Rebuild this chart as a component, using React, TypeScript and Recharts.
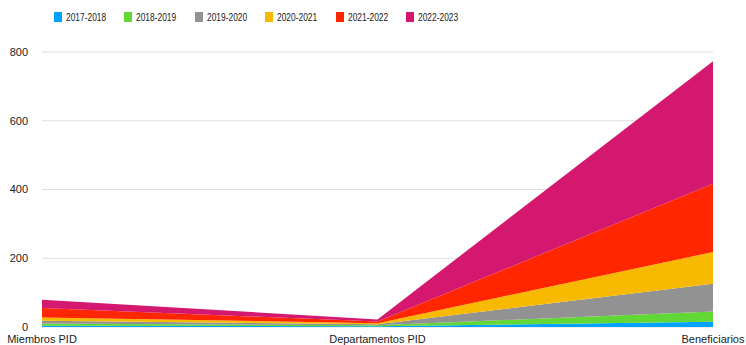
import React from "react";
import { AreaChart, Area, XAxis, YAxis, CartesianGrid, Legend } from "recharts";

const categories = ["Miembros PID", "Departamentos PID", "Beneficiarios"];
const years = ["2017-2018", "2018-2019", "2019-2020", "2020-2021", "2021-2022", "2022-2023"];

const s2017 = [4, 2, 15];
const s2018 = [6, 3, 30];
const s2019 = [8, 3, 81];
const s2020 = [10, 3, 92];
const s2021 = [27, 5, 199];
const s2022 = [24, 6, 356];

const yTicks = [0, 200, 400, 600, 800];

const COLORS = ["#00A2FF", "#61D836", "#929292", "#F8BA00", "#FF2600", "#D5186F"];

const series = [s2017, s2018, s2019, s2020, s2021, s2022];

const chartData = categories.map((name, i) => {
  const row: Record<string, string | number> = { name };
  years.forEach((y, k) => {
    row[y] = series[k][i];
  });
  return row;
});

const LegendContent = () => (
  <div style={{ height: 42, position: "relative" }}>
    {years.map((y, i) => (
      <div
        key={y}
        style={{
          position: "absolute",
          left: 54 + i * 70.4,
          top: 1,
          display: "flex",
          alignItems: "center",
        }}
      >
        <span style={{ width: 8, height: 10, background: COLORS[i], display: "inline-block" }} />
        <span
          style={{
            marginLeft: 4,
            fontSize: 10.5,
            fontFamily: "'Liberation Sans', Arial, sans-serif",
            color: "#222",
            display: "inline-block",
            transform: "scaleX(0.8)",
            transformOrigin: "left center",
          }}
        >
          {y}
        </span>
      </div>
    ))}
  </div>
);

export default function App() {
  return (
    <div style={{ position: "absolute", left: 0, top: 0, background: "#fff" }}>
      <AreaChart
        width={746}
        height={345}
        data={chartData}
        margin={{ top: 10, right: 33, left: 0, bottom: 0 }}
        style={{ fontFamily: "'Liberation Sans', Arial, sans-serif" }}
      >
        <CartesianGrid stroke="#dedede" vertical={false} />
        <Legend
          verticalAlign="top"
          align="left"
          height={42}
          content={<LegendContent />}
          wrapperStyle={{ left: 0, top: 10, width: 746 }}
        />
        <XAxis
          dataKey="name"
          axisLine={false}
          tickLine={false}
          interval={0}
          height={18}
          tick={{ fontSize: 11, fill: "#222" }}
        />
        <YAxis
          domain={[0, 800]}
          ticks={yTicks}
          axisLine={false}
          tickLine={false}
          width={42}
          tickMargin={8}
          tick={{ fontSize: 11, fill: "#222" }}
        />
        {years.map((y, i) => (
          <Area
            key={y}
            type="linear"
            dataKey={y}
            stackId="1"
            stroke="none"
            fill={COLORS[i]}
            fillOpacity={1}
            isAnimationActive={false}
          />
        ))}
      </AreaChart>
    </div>
  );
}
